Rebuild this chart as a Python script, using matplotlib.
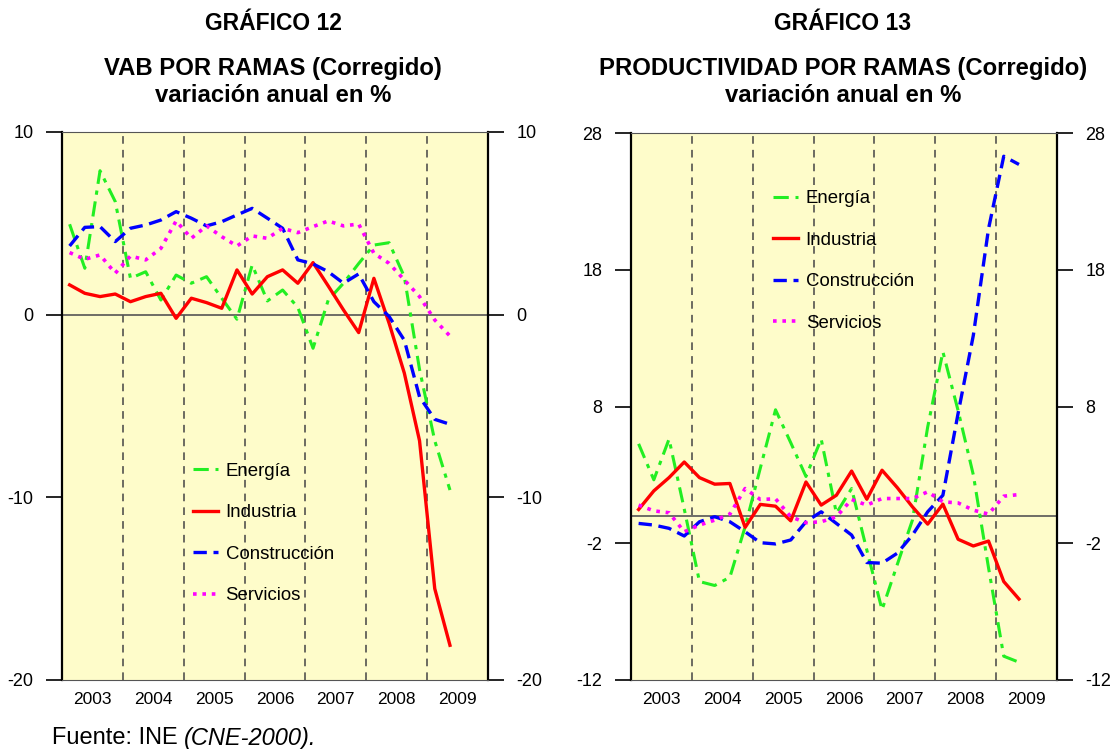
import numpy as np
import matplotlib
matplotlib.use("Agg")
import matplotlib.pyplot as plt

plt.rcParams['font.family'] = ['Liberation Sans', 'DejaVu Sans']

# trimestres 2003T1 .. 2009T2
quarters = 2003 + (np.arange(26) + 0.5) / 4
years = [2003, 2004, 2005, 2006, 2007, 2008, 2009]
series = ['Energía', 'Industria', 'Construcción', 'Servicios']

# Grafico 12: VAB por ramas
vab_energia = [4.95, 2.54, 7.88, 6.19, 1.99, 2.35, 0.8, 2.17, 1.72, 2.08, 0.9, -0.25, 2.72,
               0.75, 1.35, 0.4, -1.84, 0.8, 1.72, 2.8, 3.81, 3.94, 2.08, -3.0, -6.9, -9.6]
vab_industria = [1.63, 1.17, 0.99, 1.13, 0.71, 0.99, 1.17, -0.2, 0.9, 0.66, 0.35, 2.45, 1.13,
                 2.08, 2.45, 1.72, 2.85, 1.57, 0.26, -0.98, 1.99, -0.47, -3.2, -6.9, -15.0, -18.1]
vab_construccion = [3.76, 4.78, 4.82, 4.0, 4.73, 4.91, 5.18, 5.64, 5.28, 4.86, 5.09, 5.46, 5.82,
                    5.28, 4.73, 3.0, 2.78, 2.35, 1.72, 2.23, 0.71, -0.1, -1.4, -4.5, -5.73, -6.0]
vab_servicios = [3.4, 3.03, 3.27, 2.27, 3.21, 3.0, 3.63, 5.13, 4.18, 4.86, 4.27, 3.76, 4.31,
                 4.18, 4.73, 4.49, 4.82, 5.13, 4.86, 4.96, 3.36, 2.81, 1.9, 0.99, -0.29, -1.17]

# Grafico 13: productividad por ramas
prod_energia = [5.27, 2.64, 5.62, 0.5, -4.8, -5.09, -4.48, -0.8, 3.5, 7.76, 5.35, 2.88, 5.62,
                0.2, 2.0, -2.5, -6.86, -3.56, -0.3, 6.5, 12.0, 7.7, 3.0, -3.8, -10.26, -10.7]
prod_industria = [0.47, 1.83, 2.8, 3.94, 2.8, 2.32, 2.37, -0.84, 0.84, 0.71, -0.36, 2.48, 0.79,
                  1.51, 3.28, 1.22, 3.34, 2.07, 0.66, -0.6, 0.86, -1.71, -2.2, -1.84, -4.8, -6.08]
prod_construccion = [-0.55, -0.67, -0.91, -1.47, -0.43, -0.06, -0.43, -1.16, -1.96, -2.05, -1.76,
                     -0.43, 0.3, -0.55, -1.4, -3.41, -3.46, -2.73, -1.4, 0.3, 1.51, 7.5, 13.2,
                     21.0, 26.3, 25.7]
prod_servicios = [0.79, 0.37, 0.23, -1.16, -0.67, -0.31, 0.13, 2.0, 1.2, 1.25, -0.06, -0.5, -0.43,
                  -0.06, 1.2, 0.79, 1.27, 1.27, 1.27, 1.76, 1.03, 0.95, 0.42, 0.13, 1.44, 1.56]

styles = [dict(color='#22ee22', ls=(0, (5, 2.2, 1.4, 2.2)), lw=2.2),
          dict(color='#ff0000', ls='-', lw=2.4),
          dict(color='#0000ff', ls=(0, (4, 2)), lw=2.4),
          dict(color='#ff00ff', ls=(0, (1, 1.6)), lw=2.6)]

fig = plt.figure(figsize=(11.16, 7.49), dpi=100)
ax1 = fig.add_axes([62 / 1116, 69 / 749, 426 / 1116, 548 / 749])
ax2 = fig.add_axes([631 / 1116, 69 / 749, 426 / 1116, 547 / 749])


def draw_panel(ax, data, yticks, legend_pos):
    ax.set_facecolor('#fefcca')
    for yr in years[1:]:
        ax.axvline(yr, color='#444444', ls=(0, (5, 4)), lw=1.1, zorder=1)
    ax.axhline(0, color='#555555', lw=1.2, zorder=1)
    for vals, name, st in zip(data, series, styles):
        ax.plot(quarters, vals, label=name, zorder=3, **st)
    ax.set_xlim(2003, 2010)
    ax.set_ylim(yticks[0], yticks[-1])
    ax.set_yticks(yticks)
    ax.set_yticklabels([str(v) for v in yticks])
    ax.set_xticks([y + 0.5 for y in years])
    ax.set_xticklabels([str(y) for y in years])
    ax.tick_params(axis='x', length=0, pad=9, labelsize=12.5)
    ax.tick_params(axis='y', direction='out', length=11.5, width=1.2, pad=9, labelsize=13,
                   left=True, right=True, labelleft=True, labelright=True)
    for side in ['left', 'right']:
        ax.spines[side].set_linewidth(1.6)
    for side in ['top', 'bottom']:
        ax.spines[side].set_linewidth(0.8)
        ax.spines[side].set_color('#555555')
    ax.legend(loc='center left', bbox_to_anchor=legend_pos, frameon=False, fontsize=13.4,
              handlelength=1.3, handletextpad=0.43, labelspacing=1.31)


draw_panel(ax1, [vab_energia, vab_industria, vab_construccion, vab_servicios],
           [-20, -10, 0, 10], (0.269, 0.2675))
draw_panel(ax2, [prod_energia, prod_industria, prod_construccion, prod_servicios],
           [-12, -2, 8, 18, 28], (0.295, 0.766))

for xc, num, sub in [(273 / 1116, 'GRÁFICO 12', 'VAB POR RAMAS (Corregido)'),
                     (843 / 1116, 'GRÁFICO 13', 'PRODUCTIVIDAD POR RAMAS (Corregido)')]:
    fig.text(xc, 1 - 24 / 749, num, ha='center', va='center', fontsize=16.5, fontweight='bold')
    fig.text(xc, 1 - 68 / 749, sub, ha='center', va='center', fontsize=17.2, fontweight='bold')
    fig.text(xc, 1 - 96 / 749, 'variación anual en %', ha='center', va='center',
             fontsize=17.2, fontweight='bold')

src = fig.text(52 / 1116, 1 - 738 / 749, 'Fuente: INE ', ha='left', va='center', fontsize=17)
renderer = fig.canvas.get_renderer()
bb = src.get_window_extent(renderer=renderer)
fig.text(bb.x1 / 1116, 1 - 738 / 749, '(CNE-2000).', ha='left', va='center', fontsize=17,
         style='italic')

fig.savefig('out.png', dpi=100)
